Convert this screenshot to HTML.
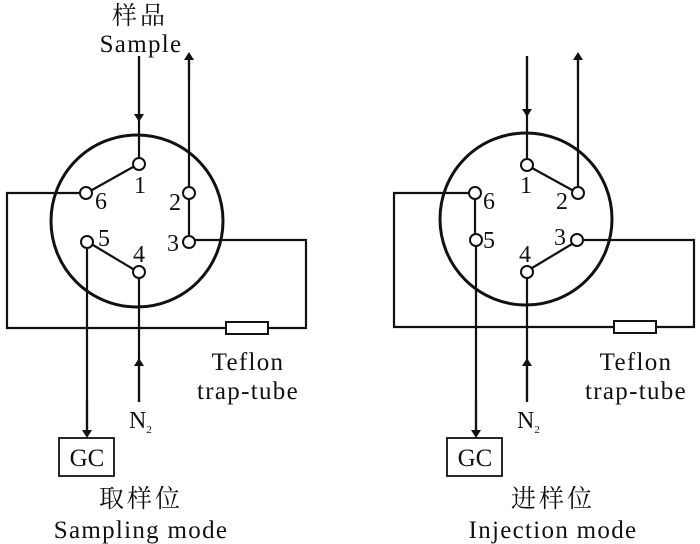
<!DOCTYPE html>
<html><head><style>
body{margin:0;background:#fff;}
svg{display:block;}
text{font-family:"Liberation Serif","Noto Serif CJK SC",serif;fill:#111;}
</style></head><body>
<svg width="700" height="544" viewBox="0 0 700 544" xmlns="http://www.w3.org/2000/svg">
<defs>
<marker id="a" markerWidth="8" markerHeight="10" refX="4" refY="5" orient="auto" markerUnits="userSpaceOnUse">
<path d="M0,0 L8,5 L0,10 z" fill="#111"/></marker>
</defs>
<g stroke="#111" stroke-width="2.2" fill="none">
<circle cx="137" cy="221" r="86" stroke-width="3"/>
<path d="M80,193 H7 V328 H226 M268,328 H306 V240 H195"/>
<rect x="226" y="322" width="42" height="12" stroke-width="2"/>
<path d="M139,56 V158"/>
<path d="M139,56 V118" marker-end="url(#a)"/>
<path d="M189,187 V58"/>
<path d="M189,80 V56" marker-end="url(#a)"/>
<path d="M189,199 V236"/>
<path d="M133,167 L92,190"/>
<path d="M93,245 L133,269"/>
<path d="M87,248 V436"/>
<path d="M87,400 V434" marker-end="url(#a)"/>
<path d="M139,278 V402"/>
<path d="M139,402 V362" marker-end="url(#a)"/>
<rect x="59" y="438" width="55" height="38" stroke-width="1.8"/>
<g fill="#fff" stroke-width="2"><circle cx="139" cy="164" r="6"/><circle cx="86" cy="193" r="6"/><circle cx="189" cy="193" r="6"/><circle cx="189" cy="242" r="6"/><circle cx="87" cy="242" r="6"/><circle cx="139" cy="272" r="6"/></g>
<circle cx="526" cy="219" r="86" stroke-width="3"/>
<path d="M469,193 H394 V327 H614 M656,327 H694 V240 H583"/>
<rect x="614" y="321" width="42" height="12" stroke-width="2"/>
<path d="M527,56 V159"/>
<path d="M527,56 V113" marker-end="url(#a)"/>
<path d="M578,187 V58"/>
<path d="M578,80 V56" marker-end="url(#a)"/>
<path d="M532,168 L572,190"/>
<path d="M475,199 V234"/>
<path d="M476,246 V436"/>
<path d="M476,400 V434" marker-end="url(#a)"/>
<path d="M572,244 L532,268"/>
<path d="M527,278 V402"/>
<path d="M527,402 V362" marker-end="url(#a)"/>
<rect x="447" y="438" width="55" height="38" stroke-width="1.8"/>
<g fill="#fff" stroke-width="2"><circle cx="527" cy="165" r="6"/><circle cx="578" cy="193" r="6"/><circle cx="475" cy="193" r="6"/><circle cx="476" cy="240" r="6"/><circle cx="577" cy="240" r="6"/><circle cx="527" cy="272" r="6"/></g>
</g>
<g font-size="25" letter-spacing="1.3">
<text x="140" y="24" text-anchor="middle" letter-spacing="3">样品</text>
<text x="141" y="52" text-anchor="middle">Sample</text>
<text x="87" y="466" text-anchor="middle" letter-spacing="0">GC</text>
<text x="475" y="466" text-anchor="middle" letter-spacing="0">GC</text>
<text x="248" y="370" text-anchor="middle">Teflon</text>
<text x="248" y="399" text-anchor="middle">trap-tube</text>
<text x="636" y="370" text-anchor="middle">Teflon</text>
<text x="636" y="399" text-anchor="middle">trap-tube</text>
<text x="141" y="507" text-anchor="middle" letter-spacing="3">取样位</text>
<text x="141" y="538" text-anchor="middle">Sampling mode</text>
<text x="553" y="507" text-anchor="middle" letter-spacing="3">进样位</text>
<text x="553" y="538" text-anchor="middle">Injection mode</text>
</g>
<g font-size="24">
<text x="134" y="193">1</text><text x="169" y="210">2</text><text x="167" y="251">3</text>
<text x="133" y="262">4</text><text x="98" y="246">5</text><text x="95" y="209">6</text>
<text x="520" y="193">1</text><text x="556" y="209">2</text><text x="554" y="245">3</text>
<text x="519" y="262">4</text><text x="483" y="248">5</text><text x="483" y="209">6</text>
<text x="129" y="428">N<tspan font-size="11" dy="5">2</tspan></text>
<text x="517" y="428">N<tspan font-size="11" dy="5">2</tspan></text>
</g>
</svg>
</body></html>
